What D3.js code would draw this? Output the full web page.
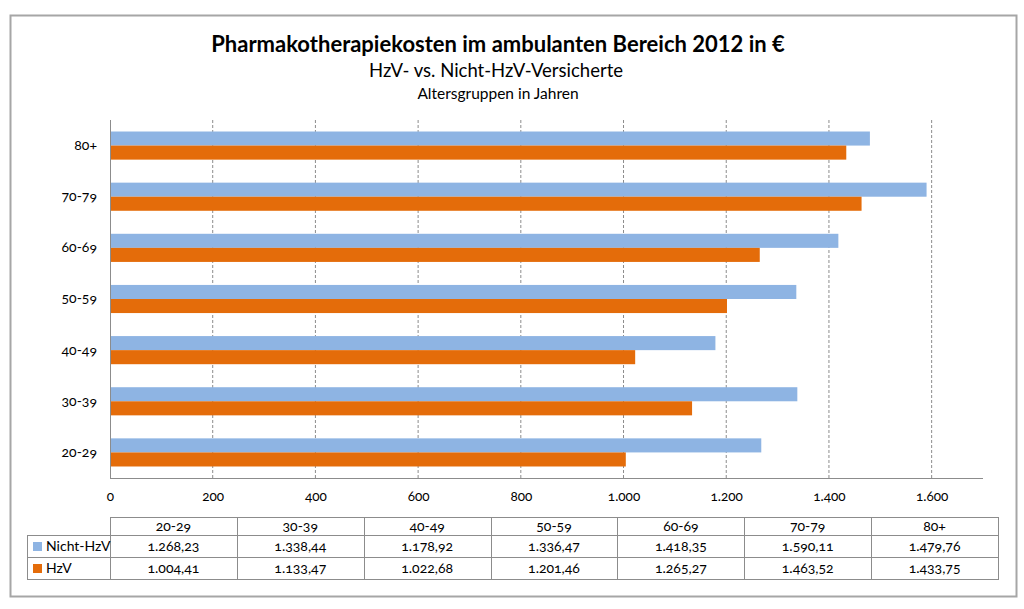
<!DOCTYPE html>
<html><head><meta charset="utf-8">
<script src="https://cdn.jsdelivr.net/npm/d3@7"></script>
<style>
body{margin:0;background:#fff;}
svg{display:block;font-family:Lato,"Open Sans",sans-serif;}
.num{font-variant-numeric:oldstyle-nums;}
</style></head>
<body><svg id="c" width="1024" height="609"></svg>
<script>
const categories = ["20-29","30-39","40-49","50-59","60-69","70-79","80+"];
const seriesNames = ["Nicht-HzV","HzV"];
const nichtHzV = [1268.23,1338.44,1178.92,1336.47,1418.35,1590.11,1479.76];
const hzv = [1004.41,1133.47,1022.68,1201.46,1265.27,1463.52,1433.75];
const xTicks = [0,200,400,600,800,1000,1200,1400,1600];
const colors = ["#8EB4E3","#E46C0A"];
const series = [nichtHzV, hzv];

const de = d3.formatLocale({decimal:",",thousands:".",grouping:[3],currency:["","€"]});
const fTick = de.format(",.0f");
const fVal = de.format(",.2f");

const svg = d3.select("#c");
svg.append("rect").attr("x",10.5).attr("y",15.5).attr("width",1006).attr("height",581)
  .attr("fill","#fff").attr("stroke","#a6a6a6").attr("stroke-width",2);

svg.append("text").attr("x",498).attr("y",52).attr("text-anchor","middle")
  .attr("font-size",22).attr("font-weight","bold").attr("fill","#000")
  .text("Pharmakotherapiekosten im ambulanten Bereich 2012 in €");
svg.append("text").attr("x",496).attr("y",77).attr("text-anchor","middle")
  .attr("font-size",18.5).attr("fill","#000").text("HzV- vs. Nicht-HzV-Versicherte");
svg.append("text").attr("x",498).attr("y",99).attr("text-anchor","middle")
  .attr("font-size",15.5).attr("fill","#000").text("Altersgruppen in Jahren");

const x = d3.scaleLinear().domain([0,1700]).range([110,983]);
const y = d3.scaleBand().domain(categories).range([478,120]).paddingInner(0.45).paddingOuter(0.225);
const ys = d3.scaleBand().domain([0,1]).range([0,y.bandwidth()]);

// gridlines
svg.append("g").selectAll("line").data(xTicks.filter(d=>d>0)).join("line")
  .attr("x1",d=>x(d)).attr("x2",d=>x(d)).attr("y1",120).attr("y2",478)
  .attr("stroke","#8c8c8c").attr("stroke-dasharray","3,2").attr("stroke-width",1);

// bars
series.forEach((s,i)=>{
  svg.append("g").selectAll("rect").data(s).join("rect")
    .attr("x",x(0)).attr("y",(d,j)=>y(categories[j])+ys(i))
    .attr("width",d=>x(d)-x(0)).attr("height",ys.bandwidth())
    .attr("fill",colors[i]);
});

// axes lines
svg.append("line").attr("x1",110.5).attr("x2",110.5).attr("y1",120).attr("y2",478.5).attr("stroke","#8c8c8c");
svg.append("line").attr("x1",110).attr("x2",983).attr("y1",478.5).attr("y2",478.5).attr("stroke","#8c8c8c");

// x tick labels
const xa = d3.axisBottom(x).tickValues(xTicks).tickFormat(fTick).tickSize(0).tickPadding(13);
const gx = svg.append("g").attr("transform","translate(0,478)").call(xa);
gx.select(".domain").remove();
gx.selectAll("text").attr("class","num").attr("font-size",13.5).attr("font-family","Lato,sans-serif").attr("fill","#000");

// y labels
const ya = d3.axisLeft(y).tickSize(0).tickPadding(13);
const gy = svg.append("g").attr("transform","translate(110,0)").call(ya);
gy.select(".domain").remove();
gy.selectAll("text").attr("class","num").attr("font-size",14).attr("font-family","Lato,sans-serif").attr("fill","#000");

// data table
const tx = d3.scaleBand().domain(categories).range([110,998]);
const rowY = [517,535,557,579];
const tg = svg.append("g");
const stroke = "#8c8c8c";
tg.append("line").attr("x1",110).attr("x2",998).attr("y1",rowY[0]+.5).attr("y2",rowY[0]+.5).attr("stroke",stroke);
[1,2,3].forEach(k=>tg.append("line").attr("x1",27).attr("x2",998).attr("y1",rowY[k]+.5).attr("y2",rowY[k]+.5).attr("stroke",stroke));
tg.append("line").attr("x1",27.5).attr("x2",27.5).attr("y1",rowY[1]).attr("y2",rowY[3]+1).attr("stroke",stroke);
const colEdges = categories.map(c=>tx(c)).concat([998]);
tg.selectAll("line.v").data(colEdges).join("line").attr("class","v")
  .attr("x1",d=>Math.round(d)+.5).attr("x2",d=>Math.round(d)+.5).attr("y1",rowY[0]).attr("y2",rowY[3]+1).attr("stroke",stroke);
tg.selectAll("text.h").data(categories).join("text").attr("class","h num")
  .attr("x",d=>tx(d)+tx.bandwidth()/2).attr("y",rowY[0]+14).attr("text-anchor","middle")
  .attr("font-size",14).text(d=>d);
series.forEach((s,i)=>{
  tg.selectAll("text.r"+i).data(s).join("text").attr("class","r"+i+" num")
    .attr("x",(d,j)=>tx(categories[j])+tx.bandwidth()/2).attr("y",rowY[i+1]+16).attr("text-anchor","middle")
    .attr("font-size",14).text(d=>fVal(d));
  tg.append("rect").attr("x",33).attr("y",rowY[i+1]+7).attr("width",9).attr("height",9).attr("fill",colors[i]);
  tg.append("text").attr("x",46).attr("y",rowY[i+1]+16).attr("font-size",14).text(seriesNames[i]);
});
</script></body></html>
